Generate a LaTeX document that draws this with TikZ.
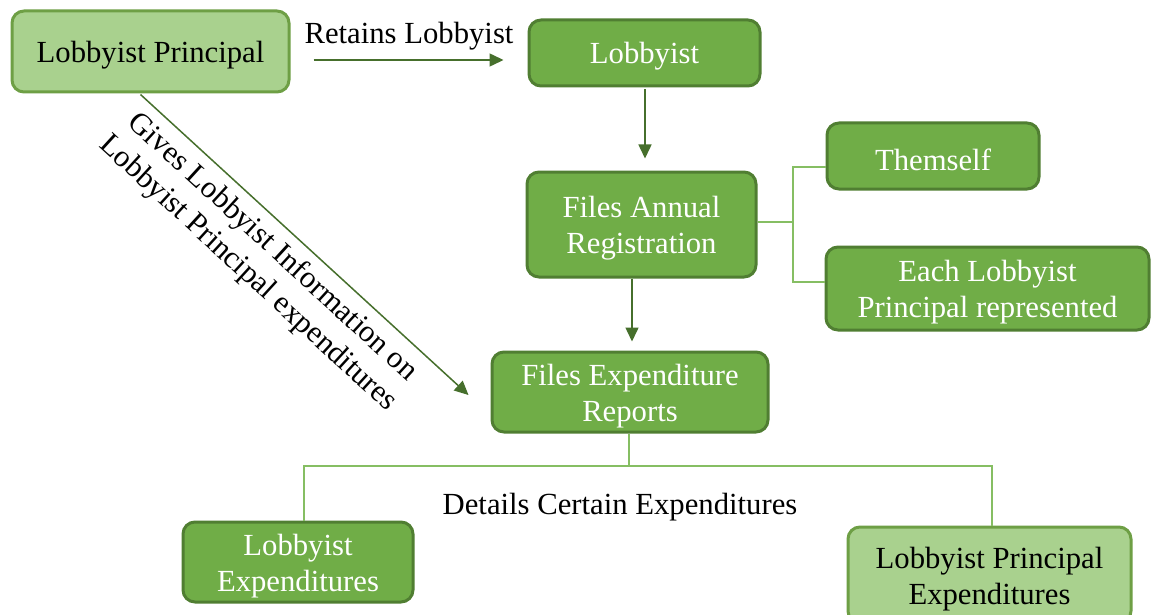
\documentclass[tikz,border=0pt]{standalone}
\usepackage{fontspec}
\setmainfont{Liberation Serif}
\usetikzlibrary{arrows.meta,calc}
\definecolor{lightfill}{HTML}{A9D18E}
\definecolor{lightborder}{HTML}{6E9F45}
\definecolor{darkfill}{HTML}{70AD47}
\definecolor{darkborder}{HTML}{507E32}
\definecolor{arrowcol}{HTML}{466F2C}
\definecolor{treecol}{HTML}{86BE63}
\newcommand\tup{\rule{0pt}{14.3pt}}
\tikzset{
  txt/.style={font=\fontsize{15.35}{18}\selectfont, align=center},
  box/.style={txt, rectangle, rounded corners=6pt, line width=1.5pt, inner sep=0pt},
  lightbox/.style={box, fill=lightfill, draw=lightborder, text=black},
  darkbox/.style={box, fill=darkfill, draw=darkborder, text=white},
  arr/.style={draw=arrowcol, line width=0.75pt, -{Triangle[length=7pt,width=6.5pt]}, arrowcol},
  tree/.style={draw=treecol, line width=0.9pt}
}
\begin{document}
\begin{tikzpicture}[x=0.5pt,y=-0.5pt]
\useasboundingbox (0,0) rectangle (1151,615);
\clip (0,0) rectangle (1151,615);
\fill[white] (0,0) rectangle (1151,615);

\node[lightbox, minimum width=138.5pt, minimum height=40.5pt] (lp) at (150.5,51.5) {\tup Lobbyist Principal};
\node[darkbox, minimum width=115.5pt, minimum height=33pt] (lob) at (644.5,53) {\tup Lobbyist};
\node[darkbox, minimum width=114.5pt, minimum height=52.5pt] (fa) at (641.5,224.5) {\tup Files Annual\\Registration};
\node[darkbox, minimum width=106pt, minimum height=33pt] (th) at (933,156) {\tup Themself};
\node[darkbox, minimum width=161.5pt, minimum height=41.5pt] (ea) at (987.5,288.5) {\tup Each Lobbyist\\Principal represented};
\node[darkbox, minimum width=138pt, minimum height=40pt] (fe) at (630,392) {\tup Files Expenditure\\Reports};
\node[darkbox, minimum width=115pt, minimum height=40pt] (le) at (298,562) {\tup Lobbyist\\Expenditures};
\node[lightbox, minimum width=141.5pt, minimum height=48pt] (lpe) at (989.5,575) {\tup Lobbyist Principal\\Expenditures};

% arrows
\draw[arr, shorten <=11.5pt, shorten >=12pt] (lp.east |- 0,60) -- (lob.west |- 0,60)
  node[midway, yshift=12pt, txt, text=black] (retains) {Retains Lobbyist};
\draw[arr, shorten <=1pt, shorten >=6pt] ([xshift=0.25pt]lob.south) -- ([xshift=0.25pt]lob.south |- fa.north);
\draw[arr, shorten <=0pt, shorten >=4.5pt] ([xshift=-4.75pt]fa.south) -- ([xshift=-4.75pt]fa.south |- fe.north);
\draw[arr] ([xshift=-5pt,yshift=-0.5pt]lp.south) -- ([xshift=-11pt,yshift=-1.5pt]fe.west)
  node[pos=0.45, sloped, below=4.5pt, txt, inner sep=0pt, text=black] (gives) {Gives Lobbyist Information on\\Lobbyist Principal expenditures};

% tree connectors
\coordinate (jr) at (793,222);
\draw[tree] (fa.east |- jr) -- (jr);
\draw[tree] (jr) |- ([yshift=-5.5pt]th.west);
\draw[tree] (jr) |- ([yshift=3.25pt]ea.west);

\coordinate (jb) at (629,466);
\draw[tree] (fe.south -| jb) -- (jb);
\draw[tree] (jb) -| ([xshift=3pt]le.north);
\draw[tree] (jb) -| ([xshift=1.25pt]lpe.north);

\node[txt, text=black] (details) at (620,507) {Details Certain Expenditures};
\end{tikzpicture}
\end{document}
